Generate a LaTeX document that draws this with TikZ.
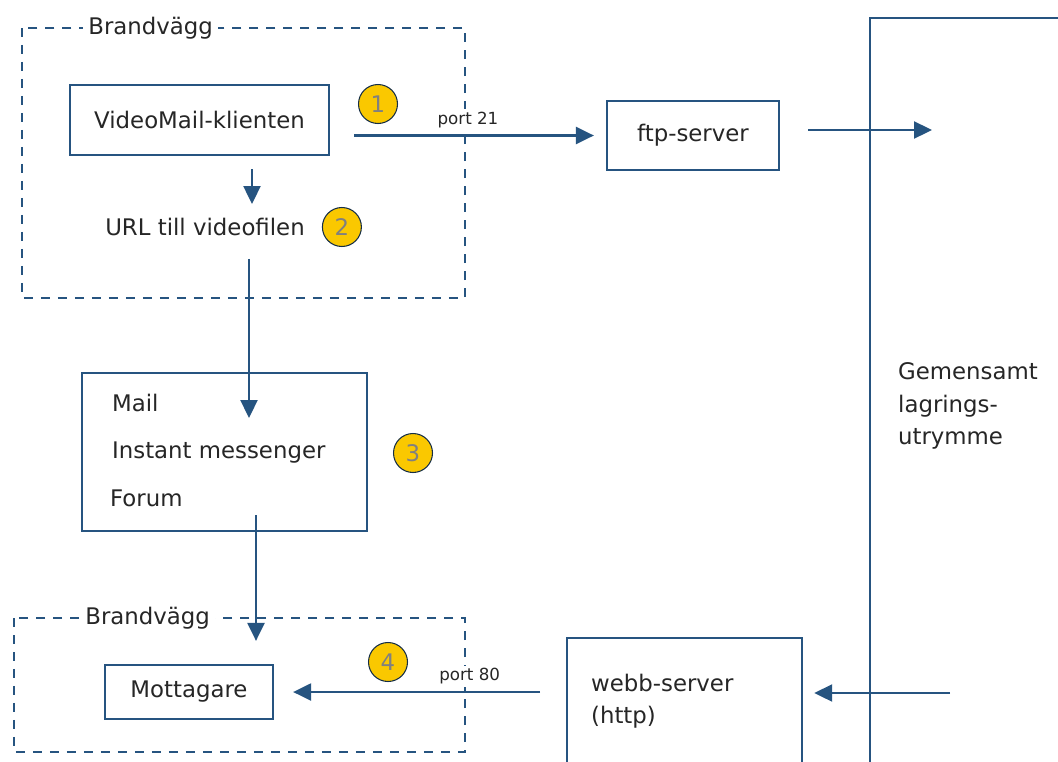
\documentclass[tikz,border=0pt]{standalone}
\usepackage{fontspec}
\setmainfont{DejaVu Sans}
\usetikzlibrary{arrows.meta, positioning}
\definecolor{linec}{RGB}{38,84,128}
\definecolor{badge}{RGB}{250,200,0}

\begin{document}
\begin{tikzpicture}[x=0.02cm, y=-0.02cm, line width=1.3pt, >={Triangle[length=0.36cm,width=0.34cm]},
      font=\fontsize{13}{18.5}\selectfont, text=black!85, every node/.style={inner sep=0pt},
      box/.style={draw=linec, rectangle},
      wall/.style={draw=linec, line width=0.9pt, dash pattern=on 0.18cm off 0.16cm},
      arr/.style={draw=linec, ->},
      num/.style={circle, fill=badge, draw=black!45!linec, line width=0.6pt, minimum size=0.78cm, text=black!50},
      port/.style={font=\fontsize{9.5}{11}\selectfont, fill=white, inner sep=1.5pt}]
      \clip (0,0) rectangle (1058,761);
      \fill[white] (0,0) rectangle (1058,761);
      % brandväggar
      \draw[wall] (22,28) rectangle (465,298);
      \node[fill=white, inner xsep=3pt, anchor=west] (wall_top) at (82,28) {Brandvägg};
      \draw[wall] (14,618) rectangle (465,752);
      \node[fill=white, inner xsep=3pt, anchor=west] (wall_bot) at (79,618) {Brandvägg};
      % boxar
      \node[box, minimum width=5.18cm, minimum height=1.4cm] (vm) at (199.5,120) {VideoMail-klienten};
      \node[box, minimum width=3.44cm, minimum height=1.38cm] (ftp) at (693,135.5) {ftp-server};
      \node[box, minimum width=4.2cm, minimum height=15.3cm, anchor=north west] (store) at (869,17) {};
      \node[anchor=west, align=left] (store_txt) at (897,406) {Gemensamt\\lagrings-\\utrymme};
      \node (url) at (205,227) {URL till videofilen};
      \node[box, minimum width=5.7cm, minimum height=3.16cm] (mail) at (224.5,452) {};
      \node[anchor=west] (mail_a) at (111,403) {Mail};
      \node[anchor=west] (mail_b) at (111,453) {Instant messenger};
      \node[anchor=west] (mail_c) at (109,498) {Forum};
      \node[box, minimum width=3.36cm, minimum height=1.08cm] (mot) at (189,692) {Mottagare};
      \node[box, minimum width=4.7cm, minimum height=3.0cm, anchor=north west] (webb) at (566,637) {};
      \node[anchor=west, align=left] (webb_txt) at (590,701) {webb-server\\(http)};
      % steg
      \node[num] (n_1) at (378,104) {1};
      \node[num, right=0.32cm of url] (n_2) {2};
      \node[num] (n_3) at (413,453) {3};
      \node[num] (n_4) at (388,662) {4};
      % pilar
      \coordinate (store_in) at (932,130);
      \coordinate (store_out) at (950,693);
      \coordinate (mail_in) at (249,418);
      \coordinate (mail_out) at (256,515);
      \draw[arr, shorten <=0.48cm, shorten >=0.24cm] (vm.east |- ftp.west) -- node[port, above=0.08cm] (p_21) {port 21} (ftp.west);
      \draw[arr, shorten <=0.56cm] (ftp.east |- store_in) -- (store_in);
      \draw[arr, shorten <=0.26cm, shorten >=0.26cm] ([xshift=1.05cm]vm.south) -- ([xshift=1.05cm]vm.south |- url.north);
      \draw[arr, shorten <=0.44cm] (url.south -| mail_in) -- (mail_in);
      \draw[arr, shorten >=0.46cm] (mail_out) -- (mail_out |- mot.north);
      \draw[arr, shorten <=0.52cm, shorten >=0.38cm] (webb.west |- mot.east) -- node[port, above=0.08cm, pos=0.33] (p_80) {port 80} (mot.east);
      \draw[arr, shorten >=0.22cm] (store_out) -- (webb.east |- store_out);
    \end{tikzpicture}
\end{document}
